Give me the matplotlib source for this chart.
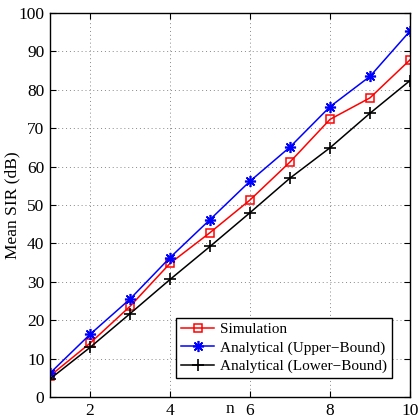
import matplotlib
matplotlib.use("Agg")
import matplotlib.pyplot as plt

n = [1, 2, 3, 4, 5, 6, 7, 8, 9, 10]
simulation = [5.5, 14.0, 23.6, 34.8, 42.8, 51.3, 61.2, 72.3, 77.9, 87.8]
upper = [6.2, 16.3, 25.5, 36.3, 46.2, 56.2, 65.1, 75.6, 83.5, 95.3]
lower = [4.7, 12.9, 21.7, 30.6, 39.2, 48.0, 57.0, 64.9, 73.9, 82.4]
xticks = [2, 4, 6, 8, 10]
yticks = [0, 10, 20, 30, 40, 50, 60, 70, 80, 90, 100]

plt.rcParams['font.family'] = ['Liberation Serif', 'DejaVu Serif']

fig = plt.figure(figsize=(4.19, 4.18), dpi=100)
ax = fig.add_axes([50/419, 1 - 397/418, 360/419, 384/418])

ax.plot(n, simulation, color='red', marker='s', markersize=6, markerfacecolor='none',
        markeredgewidth=1.1, linewidth=1.1, label='Simulation')
ax.plot(n, upper, color='blue', marker=(8, 2, 0), markersize=8, markeredgewidth=1.2,
        linewidth=1.1, label='Analytical (Upper\u2212Bound)')
ax.plot(n, lower, color='black', marker='+', markersize=9, markeredgewidth=1.2,
        linewidth=1.1, label='Analytical (Lower\u2212Bound)')

ax.set_xlim(1, 10)
ax.set_ylim(0, 100)
ax.set_xticks(xticks)
ax.set_yticks(yticks)
ax.tick_params(direction='in', top=True, right=True, labelsize=12.5, length=4, width=0.8, pad=4)
ax.grid(True, linestyle=(0, (1, 3)), color='#888888', linewidth=0.7)
for s in ax.spines.values():
    s.set_linewidth(1.0)

ax.set_ylabel('Mean SIR (dB)', fontsize=12.5)
ax.yaxis.set_label_coords(-30/360, 0.5)
ax.set_xlabel('n', fontsize=12.5, va='center')
ax.xaxis.set_label_coords(0.5, -12/384)

leg = ax.legend(loc='lower right', bbox_to_anchor=(0.95, 0.05), fontsize=11, fancybox=False,
                edgecolor='black', framealpha=1, handlelength=2.2, borderpad=0.3,
                labelspacing=0.3, handletextpad=0.4, borderaxespad=0)
leg.get_frame().set_linewidth(1.0)

fig.savefig('out.png', dpi=100)
